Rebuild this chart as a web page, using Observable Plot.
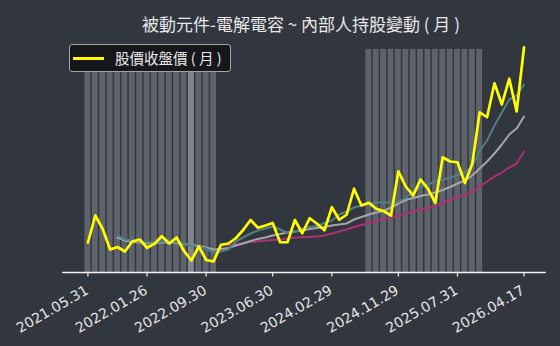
<!DOCTYPE html>
<html>
<head>
<meta charset="utf-8">
<script src="https://cdn.jsdelivr.net/npm/d3@7"></script>
<script src="https://cdn.jsdelivr.net/npm/@observablehq/plot@0.6"></script>
<style>
html,body{margin:0;padding:0;background:#31363f;}
#wrap{position:relative;width:560px;height:346px;overflow:hidden;background:#31363f;}
#title{position:absolute;left:0;top:14px;width:602px;text-align:center;font:17px/19px "Noto Sans CJK TC","Noto Sans CJK SC",sans-serif;color:#e8e8e8;white-space:nowrap;}
#legend{position:absolute;left:69px;top:44px;width:162px;height:28px;box-sizing:border-box;border:1px solid #a3a3a3;border-radius:3px;background:#15171b;}
#legend .sw{position:absolute;left:3px;top:11.5px;width:31px;height:3px;background:#ffff00;}
#legend .tx{position:absolute;left:45px;top:0;font:14.5px/26px "Noto Sans CJK TC","Noto Sans CJK SC",sans-serif;color:#e8e8e8;white-space:nowrap;}
#chart{position:absolute;left:0;top:0;}
</style>
</head>
<body>
<div id="wrap">
  <div id="chart"></div>
  <div id="title">被動元件-電解電容 ~ 內部人持股變動 ( 月 )</div>
  <div id="legend"><div class="sw"></div><div class="tx">股價收盤價 ( 月 )</div></div>
</div>
<script>
// Tick positions (month index) and labels
const tickIdx = [0, 8, 16, 25, 33, 42, 50, 59];
const tickLabels = ["2021.05.31", "2022.01.26", "2022.09.30", "2023.06.30", "2024.02.29", "2024.11.29", "2025.07.31", "2026.04.17"];

// Monthly closing price (arbitrary units)
const closePrice = [
  42.0, 52.8, 47.4, 39.2, 40.2, 38.4, 42.4, 43.2, 39.9, 41.5,
  44.5, 41.6, 44.0, 38.6, 34.8, 40.4, 35.0, 34.4, 41.1, 41.6,
  43.7, 47.0, 51.0, 47.9, 48.8, 49.8, 42.1, 42.1, 51.0, 45.7,
  51.7, 49.5, 46.9, 56.1, 51.1, 53.1, 63.5, 56.8, 57.9, 55.5,
  54.6, 52.8, 70.5, 64.4, 60.8, 67.2, 63.5, 57.9, 76.1, 74.4,
  74.1, 65.8, 73.5, 94.1, 92.1, 105.7, 97.2, 107.5, 94.4, 120.1
];

// Short moving average (teal)
const maShort = [
  null, null, null, null, 44.8, 43.2, 42.8, 42.4, 42.2, 42.0,
  42.4, 42.4, 42.2, 41.6, 40.8, 40.2, 39.6, 38.0, 38.4, 39.2,
  42.4, 44.0, 45.6, 46.8, 47.6, 48.4, 47.2, 45.8, 46.2, 47.6,
  48.2, 48.6, 49.8, 50.8, 53.2, 54.4, 56.0, 56.8, 57.4, 58.0,
  58.0, 58.0, 58.2, 60.0, 62.4, 64.4, 65.2, 66.4, 67.0, 68.0,
  68.8, 70.2, 72.4, 78.8, 82.8, 88.8, 94.0, 99.2, 100.8, 105.2
];

// Medium moving average (light gray)
const maMid = [
  null, null, null, null, 44.0, 42.8, 42.2, 42.0, 41.8, 41.8,
  42.0, 42.0, 41.8, 41.4, 41.0, 40.6, 40.0, 39.2, 39.4, 39.8,
  40.8, 41.6, 42.6, 43.4, 44.0, 44.8, 45.4, 46.0, 46.4, 46.8,
  47.4, 47.8, 48.2, 48.8, 49.2, 49.6, 51.2, 52.2, 53.2, 54.0,
  54.6, 56.0, 57.6, 59.0, 59.8, 60.6, 61.2, 62.0, 63.0, 64.2,
  65.6, 66.8, 68.8, 71.6, 74.4, 77.6, 81.2, 85.2, 87.6, 92.4
];

// Long moving average (magenta)
const maLong = [
  null, null, null, null, null, null, null, null, null, null,
  null, null, null, null, null, null, null, null, 40.8, 41.0,
  41.4, 41.8, 42.2, 42.4, 42.8, 43.0, 43.2, 43.6, 44.0, 44.1,
  44.2, 44.4, 44.8, 45.6, 46.4, 47.2, 48.2, 49.0, 49.8, 50.6,
  51.4, 52.0, 52.8, 53.6, 54.4, 55.2, 55.8, 56.6, 57.8, 59.0,
  60.0, 61.0, 62.2, 64.4, 66.4, 68.4, 70.0, 72.0, 73.6, 78.4
];

// Months with insider shareholding changes (bars)
const changeMonths = [0,1,2,3,4,5,6,7,8,9,10,11,12,13,15,16,17,
  38,39,40,41,42,43,44,45,46,47,48,49,50,51,52,53];
const changeMonthsStrong = [14];
const barTop = 119.2;
const yMin = 30, yMax = 124.4;

const chart = Plot.plot({
  width: 560,
  height: 346,
  marginLeft: 62.3,
  marginRight: 14.3,
  marginTop: 36,
  marginBottom: 74,
  style: {background: "transparent", overflow: "visible"},
  x: {domain: [-3.4, 62.0], axis: null},
  y: {domain: [yMin, yMax], axis: null},
  marks: [
    Plot.rect(changeMonths, {x1: d => d - 0.4, x2: d => d + 0.4, y1: yMin, y2: barTop, fill: "#5e626a"}),
    Plot.rect(changeMonthsStrong, {x1: d => d - 0.4, x2: d => d + 0.4, y1: yMin, y2: barTop, fill: "#80848b"}),
    Plot.line(maLong, {x: (d, i) => i, y: d => d, stroke: "#ad3070", strokeWidth: 2}),
    Plot.line(maMid, {x: (d, i) => i, y: d => d, stroke: "#a4a6ab", strokeWidth: 2}),
    Plot.line(maShort, {x: (d, i) => i, y: d => d, stroke: "#4f8086", strokeWidth: 2}),
    Plot.line(closePrice, {x: (d, i) => i, y: d => d, stroke: "#ffff00", strokeWidth: 2.7}),
    Plot.ruleY([yMin], {stroke: "#f2f2f2", strokeWidth: 1.3}),
    Plot.axisX({ticks: tickIdx, tickSize: 4.5, tickFormat: () => "", stroke: "#f2f2f2", strokeWidth: 1.2}),
    Plot.text(tickIdx, {
      x: d => d, y: yMin, text: (d, i) => tickLabels[i],
      rotate: -30, textAnchor: "end", lineAnchor: "top",
      dx: -3.5, dy: 12, fontSize: 14, fontFamily: "DejaVu Sans", fill: "#e6e6e6"
    })
  ]
});
document.getElementById("chart").appendChild(chart);
</script>
</body>
</html>
